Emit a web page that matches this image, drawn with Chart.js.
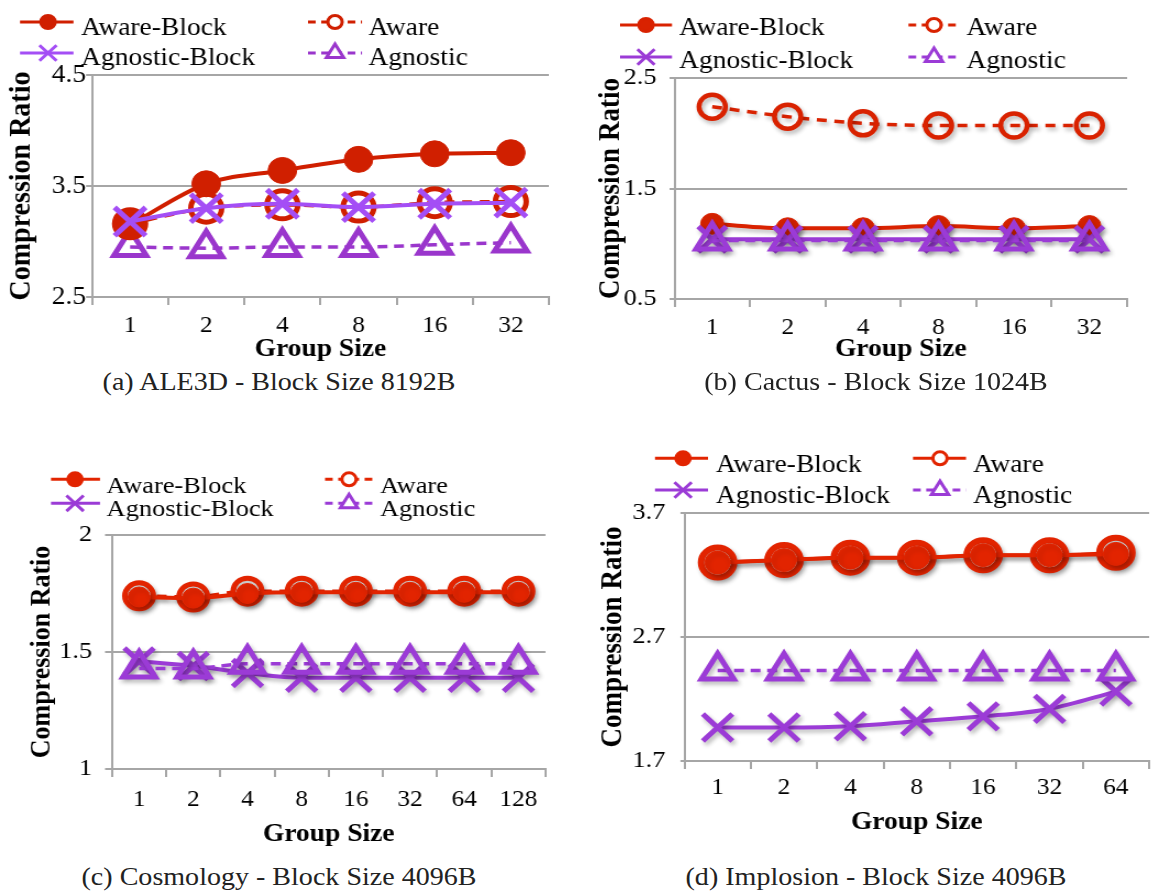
<!DOCTYPE html>
<html>
<head>
<meta charset="utf-8">
<script src="https://cdn.jsdelivr.net/npm/chart.js@4.4.1/dist/chart.umd.min.js"></script>
<style>
  html, body { margin: 0; padding: 0; background: #fff; overflow: hidden; width: 1152px; height: 892px; }
  /* the source figure is stretched ~10% horizontally, so the canvases are too */
  canvas { position: absolute; transform-origin: 0 0; transform: scaleX(1.1); }
  .cap {
    position: absolute; white-space: nowrap; color: #222;
    font-family: "Liberation Serif", "Tinos", "Nimbus Roman", serif;
    font-size: 25.5px;
    transform: translate(-50%, -50%) scaleX(1.1);
  }
</style>
</head>
<body>
<canvas id="ale3d" width="524" height="365" style="left:0;top:0;width:524px;height:365px"></canvas>
<canvas id="cactus" width="524" height="365" style="left:576px;top:0;width:524px;height:365px"></canvas>
<canvas id="cosmo" width="524" height="420" style="left:0;top:430px;width:524px;height:420px"></canvas>
<canvas id="implosion" width="545" height="408" style="left:576px;top:430px;width:545px;height:408px"></canvas>

<div class="cap" style="left:279px;top:382px">(a) ALE3D - Block Size 8192B</div>
<div class="cap" style="left:876px;top:382px">(b) Cactus - Block Size 1024B</div>
<div class="cap" style="left:279px;top:877px">(c) Cosmology - Block Size 4096B</div>
<div class="cap" style="left:876px;top:877px">(d) Implosion - Block Size 4096B</div>

<script>
//--------------------------------------------Data

const groups6 = ['1', '2', '4', '8', '16', '32'];
const groups7 = ['1', '2', '4', '8', '16', '32', '64'];
const groups8 = ['1', '2', '4', '8', '16', '32', '64', '128'];

// (a) ALE3D
const ale3dAwareBlock = [3.15, 3.52, 3.64, 3.74, 3.79, 3.80];
const ale3dAware = [3.16, 3.30, 3.33, 3.31, 3.35, 3.36];
const ale3dAgnosticBlock = [3.18, 3.30, 3.34, 3.31, 3.34, 3.35];
const ale3dAgnostic = [2.95, 2.94, 2.95, 2.95, 2.97, 2.99];
const ale3dTicks = [2.5, 3.5, 4.5];

// (b) Cactus
const cactusAwareBlock = [1.18, 1.14, 1.14, 1.16, 1.14, 1.16];
const cactusAware = [2.24, 2.15, 2.09, 2.07, 2.07, 2.07];
const cactusAgnosticBlock = [1.04, 1.04, 1.04, 1.04, 1.04, 1.04];
const cactusAgnostic = [1.03, 1.03, 1.03, 1.03, 1.03, 1.03];
const cactusTicks = [0.5, 1.5, 2.5];

// (c) Cosmology
const cosmoAwareBlock = [1.735, 1.73, 1.75, 1.755, 1.755, 1.755, 1.755, 1.755];
const cosmoAware = [1.74, 1.735, 1.76, 1.76, 1.76, 1.76, 1.76, 1.76];
const cosmoAgnosticBlock = [1.46, 1.44, 1.41, 1.39, 1.39, 1.39, 1.39, 1.39];
const cosmoAgnostic = [1.43, 1.43, 1.45, 1.45, 1.45, 1.45, 1.45, 1.45];
const cosmoTicks = [1, 1.5, 2];

// (d) Implosion
const implAwareBlock = [3.30, 3.32, 3.34, 3.34, 3.36, 3.36, 3.37];
const implAware = [3.30, 3.32, 3.34, 3.34, 3.36, 3.36, 3.38];
const implAgnosticBlock = [1.97, 1.97, 1.98, 2.02, 2.06, 2.12, 2.26];
const implAgnostic = [2.43, 2.43, 2.43, 2.43, 2.43, 2.43, 2.43];
const implTicks = [1.7, 2.7, 3.7];

//--------------------------------------------Variables

const SERIF = '"Liberation Serif", "Tinos", "Nimbus Roman", serif';
const GRID = '#a6a6a6';
const K = 1.1;              // horizontal stretch applied by css
const L = v => v / K;       // page x -> canvas x

// legend drawn as two columns of (line + marker + label)
const lineLegend = {
    id: 'lineLegend',
    afterDraw(chart, args, opts) {
        const ctx = chart.ctx;
        ctx.save();
        chart.data.datasets.forEach((ds, i) => {
            const col = opts.cols[i % 2];
            const row = Math.floor(i / 2);
            const ly = opts.lineY[row];

            ctx.strokeStyle = ds.borderColor;
            ctx.lineWidth = 3;
            ctx.setLineDash(opts.dashed[i] ? [7, 5] : []);
            ctx.beginPath();
            ctx.moveTo(L(col.x0), ly);
            ctx.lineTo(L(col.x1), ly);
            ctx.stroke();
            ctx.setLineDash([]);

            const hollow = ds.pointBackgroundColor === 'transparent' || ds.pointBackgroundColor === '#fff';
            ctx.fillStyle = hollow ? '#fff' : ds.pointBorderColor;
            ctx.strokeStyle = ds.pointBorderColor;
            Chart.helpers.drawPoint(ctx, {
                pointStyle: ds.pointStyle,
                radius: opts.radius[ds.pointStyle],
                borderWidth: ds.pointStyle === 'circle' && !hollow ? 1 : 3.5,
                rotation: 0
            }, L(col.mx), ly);

            ctx.fillStyle = '#000';
            ctx.font = opts.font + 'px ' + SERIF;
            ctx.textBaseline = 'alphabetic';
            ctx.fillText(ds.label, L(col.tx), opts.textY[row] + opts.font * 0.33);
        });
        ctx.restore();
    }
};

// soft drop shadow under the marks (only where the source has it)
const markShadow = {
    id: 'markShadow',
    beforeDatasetsDraw(chart, args, opts) {
        if (!opts.on) return;
        const ctx = chart.ctx;
        ctx.save();
        ctx.shadowColor = 'rgba(0, 0, 0, 0.28)';
        ctx.shadowBlur = 4;
        ctx.shadowOffsetX = 2;
        ctx.shadowOffsetY = 3;
    },
    afterDatasetsDraw(chart, args, opts) {
        if (opts.on) chart.ctx.restore();
    }
};

function buildSets(values, st) {
    const common = { fill: false, cubicInterpolationMode: 'monotone', clip: false };
    return [
        Object.assign({}, common, {
            label: 'Aware-Block', data: values[0],
            borderColor: st.red, backgroundColor: st.red,
            pointBackgroundColor: st.red, pointBorderColor: st.red,
            pointStyle: 'circle', pointRadius: st.abR, pointBorderWidth: 1,
            borderWidth: 4, order: st.order[0]
        }),
        Object.assign({}, common, {
            label: 'Aware', data: values[1],
            borderColor: st.red, backgroundColor: st.red,
            pointBackgroundColor: st.awareFill, pointBorderColor: st.red,
            pointStyle: 'circle', pointRadius: st.aR, pointBorderWidth: st.aBW,
            borderWidth: 3.5, borderDash: st.awareDash, order: st.order[1]
        }),
        Object.assign({}, common, {
            label: 'Agnostic-Block', data: values[2],
            borderColor: st.purpleX, backgroundColor: st.purpleX,
            pointBackgroundColor: st.purpleX, pointBorderColor: st.purpleX,
            pointStyle: 'crossRot', pointRadius: st.xR, pointBorderWidth: 5,
            borderWidth: 4, order: st.order[2]
        }),
        Object.assign({}, common, {
            label: 'Agnostic', data: values[3],
            borderColor: st.purple, backgroundColor: st.purple,
            pointBackgroundColor: 'transparent', pointBorderColor: st.purple,
            pointStyle: 'triangle', pointRadius: st.tR, pointBorderWidth: 5,
            borderWidth: 3.5, borderDash: [9, 6], order: st.order[3]
        })
    ];
}

// g holds page-pixel positions measured from the canvas' left edge
function makeChart(id, labels, values, yTicks, g, st) {
    const canvas = document.getElementById(id);
    const W = canvas.width;
    const yTitleLH = g.yTitleSize * 1.2;
    return new Chart(canvas, {
        type: 'line',
        data: { labels: labels, datasets: buildSets(values, st) },
        options: {
            responsive: false,
            animation: false,
            events: [],
            layout: { padding: { left: 0, top: g.top, right: W - L(g.right), bottom: 0 } },
            plugins: {
                legend: { display: false },
                tooltip: { enabled: false },
                lineLegend: g.legend,
                markShadow: { on: st.shadow }
            },
            scales: {
                x: {
                    type: 'category',
                    offset: true,
                    grid: { offset: true, drawOnChartArea: false, color: GRID, lineWidth: 2, tickLength: 8 },
                    border: { color: GRID, width: 2 },
                    ticks: {
                        color: '#000', padding: g.xPad, maxRotation: 0, autoSkip: false,
                        font: { family: SERIF, size: 23 }
                    },
                    title: {
                        display: true, text: 'Group Size', color: '#000', padding: 0,
                        font: { family: SERIF, size: 25, weight: 'bold' }
                    },
                    afterFit: s => { s.height = g.xH; }
                },
                y: {
                    min: yTicks[0],
                    max: yTicks[yTicks.length - 1],
                    afterBuildTicks: s => { s.ticks = yTicks.map(v => ({ value: v })); },
                    grid: { color: GRID, lineWidth: 2, tickLength: L(g.yTick) },
                    border: { color: GRID, width: 2 },
                    ticks: {
                        color: '#000', padding: L(g.yPad),
                        font: { family: SERIF, size: g.yTickSize },
                        callback: v => String(v)
                    },
                    title: {
                        display: true, text: 'Compression Ratio', color: '#000',
                        padding: { top: L(g.yTitleX) - yTitleLH / 2, bottom: 0 },
                        font: { family: SERIF, size: g.yTitleSize, weight: 'bold' }
                    },
                    afterFit: s => { s.width = L(g.left); }
                }
            }
        },
        plugins: [lineLegend, markShadow]
    });
}

const radiusLegend = { circle: 6.5, crossRot: 11, triangle: 9 };
const dashedClassic = [false, true, false, true];

makeChart('ale3d', groups6,
    [ale3dAwareBlock, ale3dAware, ale3dAgnosticBlock, ale3dAgnostic], ale3dTicks,
    {
        left: 92, right: 559.5, top: 75, xH: 68, xPad: 7.5, yTick: 6, yPad: 0, yTickSize: 25,
        yTitleX: 22, yTitleSize: 28,
        legend: {
            font: 25, textY: [26.7, 56.7], lineY: [22, 53], radius: radiusLegend, dashed: dashedClassic,
            cols: [{ x0: 20, x1: 73.5, mx: 48, tx: 81 }, { x0: 308, x1: 362, mx: 335, tx: 368.5 }]
        }
    },
    {
        red: '#d01f00', purpleX: '#a44ef5', purple: '#9a36cc', awareFill: 'transparent',
        awareDash: [9, 7], abR: 13, aR: 14, aBW: 5, xR: 20, tR: 17, order: [2, 1, 0, 3], shadow: false
    });

makeChart('cactus', groups6,
    [cactusAwareBlock, cactusAware, cactusAgnosticBlock, cactusAgnostic], cactusTicks,
    {
        left: 98.5, right: 561, top: 78, xH: 66, xPad: 7, yTick: 5, yPad: 13, yTickSize: 24,
        yTitleX: 35, yTitleSize: 27,
        legend: {
            font: 25, textY: [27, 60], lineY: [25, 57], radius: radiusLegend, dashed: dashedClassic,
            cols: [{ x0: 44, x1: 96, mx: 70, tx: 103 }, { x0: 332.5, x1: 384, mx: 358, tx: 390.5 }]
        }
    },
    {
        red: '#d92200', purpleX: '#9b3bd6', purple: '#9b3bd6', awareFill: 'transparent',
        awareDash: [9, 7], abR: 10.5, aR: 12, aBW: 4.5, xR: 18, tR: 17, order: [2, 3, 1, 0], shadow: true
    });

makeChart('cosmo', groups8,
    [cosmoAwareBlock, cosmoAware, cosmoAgnosticBlock, cosmoAgnostic], cosmoTicks,
    {
        left: 112, right: 545.5, top: 105, xH: 81, xPad: 9, yTick: 7, yPad: 13, yTickSize: 24,
        yTitleX: 42, yTitleSize: 26,
        legend: {
            font: 24, textY: [54.7, 78], lineY: [49.3, 73.3], radius: radiusLegend, dashed: dashedClassic,
            cols: [{ x0: 51, x1: 100, mx: 75, tx: 106.5 }, { x0: 325, x1: 373, mx: 349, tx: 380 }]
        }
    },
    {
        red: '#e22400', purpleX: '#9b3bd6', purple: '#9b3bd6', awareFill: '#fff',
        awareDash: [9, 7], abR: 10, aR: 13, aBW: 5, xR: 19, tR: 17, order: [0, 1, 3, 2], shadow: true
    });

makeChart('implosion', groups7,
    [implAwareBlock, implAware, implAgnosticBlock, implAgnostic], implTicks,
    {
        left: 108.4, right: 584, top: 83, xH: 77, xPad: 5, yTick: 4, yPad: 15, yTickSize: 24,
        yTitleX: 37, yTitleSize: 27,
        legend: {
            font: 25, textY: [33.3, 65], lineY: [28.3, 60], radius: radiusLegend, dashed: [false, false, false, true],
            cols: [{ x0: 79, x1: 132, mx: 107, tx: 140 }, { x0: 337, x1: 390, mx: 364, tx: 397 }]
        }
    },
    {
        red: '#e22400', purpleX: '#9b3bd6', purple: '#9b3bd6', awareFill: '#fff',
        awareDash: [], abR: 11.5, aR: 15, aBW: 6, xR: 19, tR: 17, order: [0, 1, 3, 2], shadow: true
    });
</script>
</body>
</html>
